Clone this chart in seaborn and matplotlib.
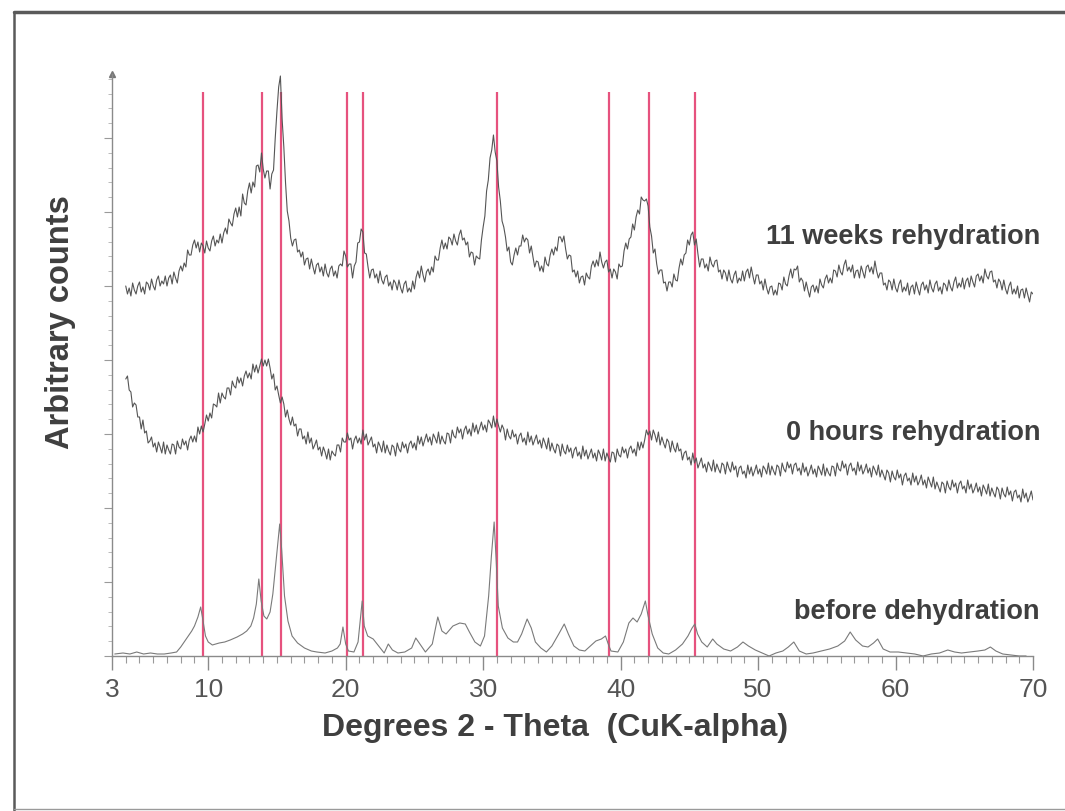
import numpy as np
import pandas as pd
import matplotlib
matplotlib.use("Agg")
import matplotlib.pyplot as plt
from matplotlib.lines import Line2D
from matplotlib.ticker import MultipleLocator
import seaborn as sns

# ---------------------------------------------------------------------------
# Powder diffraction scans (arbitrary counts, offset stacks)
# step scans: 4.0 to 70.0 degrees 2-theta in 0.125 degree steps
# ---------------------------------------------------------------------------
scan_start, scan_stop, scan_step = 4.0, 70.0, 0.125

weeks11_counts = [
    370, 362, 368, 360, 373, 366, 362, 370, 374, 364, 369, 362, 374, 372, 366, 377,
    370, 366, 376, 380, 370, 375, 372, 380, 370, 378, 381, 372, 384, 378, 373, 385,
    390, 385, 393, 389, 406, 401, 401, 411, 416, 408, 414, 404, 413, 410, 403, 415,
    408, 405, 415, 420, 410, 416, 413, 422, 413, 423, 428, 422, 437, 433, 430, 442,
    448, 439, 449, 440, 462, 453, 451, 465, 473, 463, 474, 469, 490, 491, 484, 503,
    487, 478, 485, 485, 467, 482, 486, 518, 545, 569, 580, 537, 509, 473, 445, 435,
    418, 410, 416, 417, 404, 406, 399, 404, 391, 397, 398, 387, 397, 389, 382, 391,
    393, 384, 389, 380, 392, 383, 379, 387, 390, 380, 385, 378, 390, 392, 390, 405,
    400, 389, 392, 392, 378, 390, 394, 413, 414, 427, 424, 403, 402, 389, 378, 386,
    387, 378, 382, 373, 385, 376, 372, 379, 381, 370, 374, 366, 376, 373, 366, 376,
    368, 363, 372, 375, 364, 368, 364, 375, 367, 379, 385, 378, 390, 381, 374, 384,
    387, 381, 389, 384, 400, 396, 396, 408, 416, 407, 413, 407, 419, 417, 411, 422,
    415, 411, 421, 426, 416, 418, 411, 414, 399, 404, 403, 391, 400, 398, 397, 416,
    429, 440, 465, 476, 498, 506, 521, 504, 495, 469, 455, 435, 429, 419, 405, 409,
    394, 391, 401, 408, 401, 410, 410, 421, 414, 418, 416, 403, 410, 399, 389, 395,
    394, 385, 390, 384, 399, 392, 390, 401, 407, 401, 409, 405, 419, 419, 414, 420,
    407, 397, 401, 400, 384, 386, 379, 385, 373, 379, 380, 371, 383, 379, 377, 390,
    395, 389, 396, 390, 404, 394, 388, 394, 396, 384, 387, 378, 387, 384, 377, 392,
    389, 390, 405, 413, 407, 417, 419, 432, 426, 439, 446, 442, 459, 456, 455, 457,
    450, 429, 420, 403, 407, 392, 382, 386, 386, 373, 374, 365, 374, 374, 369, 382,
    376, 375, 388, 397, 391, 401, 403, 416, 411, 421, 424, 411, 417, 402, 389, 397,
    397, 388, 392, 385, 399, 392, 389, 395, 396, 384, 386, 377, 386, 383, 375, 386,
    377, 373, 381, 385, 373, 378, 375, 385, 375, 384, 387, 378, 389, 380, 372, 381,
    381, 372, 375, 366, 377, 368, 362, 369, 370, 361, 366, 361, 373, 372, 366, 379,
    372, 370, 380, 387, 378, 387, 386, 390, 374, 378, 375, 365, 374, 366, 359, 369,
    371, 364, 370, 363, 377, 371, 368, 377, 381, 373, 378, 373, 386, 385, 379, 391,
    384, 381, 391, 396, 385, 389, 384, 391, 378, 385, 386, 378, 390, 384, 378, 389,
    391, 384, 389, 382, 395, 385, 378, 383, 383, 371, 373, 366, 376, 374, 366, 377,
    368, 364, 372, 376, 364, 369, 365, 373, 361, 369, 371, 362, 374, 367, 361, 371,
    374, 366, 371, 363, 376, 368, 364, 372, 375, 365, 369, 362, 373, 371, 365, 376,
    369, 365, 374, 379, 368, 373, 369, 378, 367, 375, 378, 369, 380, 374, 369, 380,
    382, 375, 380, 373, 387, 380, 377, 384, 385, 374, 376, 368, 377, 374, 366, 376,
    367, 362, 370, 374, 362, 367, 362, 370, 358, 366, 367, 358, 368, 361, 354, 364,
    362,
]

hours0_counts = [
    277, 280, 266, 264, 249, 253, 251, 239, 239, 227, 236, 223, 225, 213, 215, 219,
    209, 213, 204, 214, 209, 203, 214, 202, 211, 206, 202, 212, 211, 202, 215, 209,
    207, 217, 211, 215, 206, 216, 220, 214, 220, 214, 229, 222, 230, 224, 232, 241,
    235, 243, 238, 252, 251, 249, 263, 253, 263, 259, 257, 268, 268, 261, 275, 270,
    268, 279, 273, 278, 270, 280, 285, 278, 283, 277, 292, 284, 291, 283, 290, 297,
    290, 296, 290, 297, 288, 277, 282, 266, 270, 261, 253, 259, 252, 239, 246, 237,
    231, 239, 230, 232, 220, 227, 227, 217, 220, 212, 224, 213, 218, 207, 211, 216,
    206, 209, 200, 209, 204, 197, 207, 196, 205, 202, 200, 211, 211, 204, 218, 214,
    214, 223, 216, 218, 207, 216, 220, 213, 218, 212, 226, 216, 222, 211, 215, 219,
    209, 212, 203, 214, 210, 204, 215, 203, 211, 205, 201, 211, 209, 200, 213, 207,
    204, 214, 208, 212, 203, 212, 215, 208, 213, 206, 220, 212, 219, 210, 216, 222,
    214, 219, 211, 222, 218, 213, 224, 212, 220, 215, 212, 223, 222, 213, 226, 220,
    218, 229, 223, 227, 217, 226, 230, 222, 227, 220, 233, 224, 231, 222, 228, 234,
    226, 231, 224, 236, 233, 228, 240, 229, 237, 230, 224, 231, 227, 216, 227, 220,
    217, 226, 219, 222, 212, 220, 223, 214, 218, 211, 224, 214, 220, 211, 216, 221,
    212, 216, 208, 218, 213, 207, 218, 205, 213, 207, 203, 212, 210, 200, 212, 205,
    202, 211, 204, 208, 198, 206, 209, 200, 204, 197, 210, 200, 206, 197, 202, 207,
    198, 203, 195, 206, 202, 196, 207, 195, 203, 198, 194, 204, 203, 194, 207, 201,
    199, 209, 203, 207, 198, 207, 210, 203, 207, 200, 214, 206, 214, 208, 216, 226,
    221, 225, 216, 226, 221, 214, 224, 211, 219, 213, 208, 217, 214, 204, 215, 208,
    204, 213, 205, 207, 196, 203, 205, 196, 199, 191, 203, 193, 198, 188, 193, 198,
    188, 192, 184, 194, 190, 185, 196, 184, 192, 187, 183, 193, 191, 182, 194, 188,
    184, 194, 186, 190, 179, 188, 190, 182, 185, 178, 191, 182, 189, 180, 185, 191,
    182, 187, 179, 190, 187, 182, 193, 181, 190, 185, 181, 191, 189, 180, 193, 187,
    184, 194, 188, 192, 182, 191, 193, 185, 188, 181, 193, 184, 189, 180, 185, 191,
    182, 187, 179, 190, 186, 181, 192, 180, 188, 183, 180, 190, 189, 180, 193, 187,
    185, 195, 188, 192, 181, 190, 193, 185, 188, 181, 194, 185, 191, 182, 186, 192,
    183, 188, 179, 190, 186, 181, 191, 179, 186, 181, 176, 186, 183, 174, 185, 179,
    176, 186, 178, 182, 171, 180, 183, 175, 178, 171, 183, 174, 180, 171, 175, 181,
    171, 176, 168, 179, 174, 169, 179, 167, 174, 169, 164, 174, 172, 163, 175, 169,
    166, 176, 169, 173, 163, 172, 175, 167, 170, 163, 176, 167, 172, 163, 167, 173,
    164, 169, 160, 171, 167, 162, 172, 160, 168, 163, 159, 169, 166, 157, 168, 162,
    159, 169, 161, 165, 155, 164, 166, 158, 161, 154, 167, 158, 163, 154, 159, 165,
    156,
]

before_theta = [
    3.2, 3.8, 4.3, 4.8, 5.3, 5.8, 6.3, 6.8, 7.3, 7.7, 8.0, 8.4, 8.8, 9.0, 9.25,
    9.45, 9.6, 9.8, 10.0, 10.3, 10.8, 11.2, 11.6, 12.1, 12.5, 12.8, 13.1, 13.3,
    13.5, 13.68, 13.85, 14.05, 14.26, 14.5, 14.7, 14.9, 15.05, 15.2, 15.35, 15.55,
    15.8, 16.1, 16.5, 17.0, 17.5, 17.9, 18.5, 19.0, 19.4, 19.6, 19.8, 20.0, 20.2,
    20.6, 20.9, 21.05, 21.2, 21.35, 21.6, 22.0, 22.4, 22.8, 23.1, 23.4, 23.8, 24.3,
    24.8, 25.1, 25.4, 25.8, 26.3, 26.7, 27.0, 27.3, 27.8, 28.3, 28.7, 29.0, 29.4,
    29.8, 30.1, 30.4, 30.6, 30.8, 30.95, 31.1, 31.4, 31.8, 32.2, 32.5, 32.8, 33.2,
    33.5, 33.8, 34.2, 34.6, 35.0, 35.5, 35.9, 36.2, 36.6, 37.0, 37.4, 37.8, 38.2,
    38.6, 38.9, 39.1, 39.3, 39.8, 40.2, 40.6, 40.9, 41.2, 41.5, 41.8, 42.0, 42.3,
    42.7, 43.1, 43.5, 44.0, 44.5, 44.9, 45.2, 45.4, 45.6, 45.9, 46.3, 46.7, 47.0,
    47.5, 48.0, 48.5, 48.9, 49.3, 49.8, 50.3, 50.8, 51.3, 51.8, 52.2, 52.6, 53.0,
    53.5, 54.0, 54.6, 55.2, 55.8, 56.3, 56.7, 57.1, 57.6, 58.0, 58.4, 58.7, 59.1,
    59.6, 60.2, 60.8, 61.4, 62.0, 62.6, 63.2, 63.8, 64.3, 64.8, 65.4, 66.0, 66.5,
    66.9, 67.3, 67.8, 68.4, 69.0, 69.5,
]
before_counts = [
    2, 3, 2, 4, 2, 3, 2, 2, 3, 4, 9, 17, 25, 30, 39,
    49, 37, 20, 14, 11, 13, 14, 16, 19, 22, 25, 30, 38,
    52, 77, 55, 40, 37, 44, 62, 90, 112, 132, 105, 60,
    35, 20, 13, 8, 5, 4, 3, 5, 8, 12, 29, 12, 5,
    4, 14, 35, 55, 30, 20, 17, 10, 3, 12, 6, 3, 4,
    8, 18, 12, 4, 12, 39, 25, 22, 30, 33, 32, 24, 14,
    10, 20, 60, 100, 134, 95, 50, 28, 18, 14, 14, 22, 37,
    28, 14, 8, 4, 10, 22, 32, 22, 10, 6, 5, 10, 15,
    17, 20, 12, 5, 4, 14, 33, 38, 34, 42, 55, 40, 22,
    8, 3, 2, 6, 12, 20, 28, 32, 22, 14, 9, 17, 12,
    7, 5, 9, 14, 10, 6, 3, 0, 3, 5, 9, 14, 5,
    2, 3, 5, 7, 10, 15, 24, 16, 10, 9, 13, 17, 7,
    4, 4, 3, 2, 0, 2, 3, 6, 4, 3, 4, 5, 6,
    9, 5, 2, 1, 0, 0,
]

# reflection positions marked with vertical lines
reference_peaks = [9.6, 13.9, 15.28, 20.08, 21.24, 30.98, 39.19, 42.03, 45.44]
marker_top = 564

x_ticks = [3, 10, 20, 30, 40, 50, 60, 70]
x_tick_labels = ["3", "10", "20", "30", "40", "50", "60", "70"]

series_labels = ["11 weeks rehydration", "0 hours rehydration", "before dehydration"]

# ---------------------------------------------------------------------------
sns.set_theme(style="white")
plt.rcParams["font.family"] = ["Liberation Sans", "DejaVu Sans"]

W, H = 1065, 812
fig = plt.figure(figsize=(W / 100, H / 100), dpi=100)
fig.patch.set_facecolor("white")
ax = fig.add_axes([112 / W, (H - 657) / H, (1033 - 112) / W, (657 - 75) / H])
ax.set_facecolor("none")

grid = np.linspace(scan_start, scan_stop, len(weeks11_counts))
df_top = pd.DataFrame({"theta": grid, "counts": weeks11_counts})
df_mid = pd.DataFrame({"theta": grid, "counts": hours0_counts})
df_bot = pd.DataFrame({"theta": before_theta, "counts": before_counts})

ax.vlines(reference_peaks, 0, marker_top, colors="#e6527e", linewidth=1.6, zorder=1)

sns.lineplot(data=df_top, x="theta", y="counts", ax=ax, color="#555555",
             linewidth=0.8, estimator=None, sort=False, zorder=3)
sns.lineplot(data=df_mid, x="theta", y="counts", ax=ax, color="#555555",
             linewidth=0.8, estimator=None, sort=False, zorder=3)
sns.lineplot(data=df_bot, x="theta", y="counts", ax=ax, color="#7a7a7a",
             linewidth=0.8, estimator=None, sort=False, zorder=3)

ax.set_xlim(3, 70)
ax.set_ylim(0, 582)
ax.set_xlabel("")
ax.set_ylabel("")

for side in ("top", "right"):
    ax.spines[side].set_visible(False)
for side in ("left", "bottom"):
    ax.spines[side].set_color("#8a8a8a")
    ax.spines[side].set_linewidth(1.0)

ax.set_xticks(x_ticks)
ax.set_xticklabels(x_tick_labels)
ax.xaxis.set_minor_locator(MultipleLocator(1))
ax.set_yticks(np.arange(0, 582, 74))
ax.set_yticklabels([])
ax.yaxis.set_minor_locator(MultipleLocator(14.8))
ax.tick_params(axis="x", which="major", direction="out", length=10, width=1,
               color="#8a8a8a", labelsize=19, labelcolor="#555555", pad=5, bottom=True)
ax.tick_params(axis="x", which="minor", direction="out", length=5, width=0.8,
               color="#9a9a9a", bottom=True)
ax.tick_params(axis="y", which="major", direction="out", length=6, width=0.8,
               color="#9a9a9a", left=True)
ax.tick_params(axis="y", which="minor", direction="out", length=3, width=0.6,
               color="#b0b0b0", left=True)

# small arrow head at the end of the intensity axis
ax.plot([0], [1], marker="^", markersize=4, color="#777777",
        transform=ax.transAxes, clip_on=False)

text_color = "#3f3f3f"
label_rows = [237, 433, 612]
for lab, row in zip(series_labels, label_rows):
    fig.text(1040 / W, 1 - row / H, lab, ha="right", va="center",
             fontsize=19.5, fontweight="bold", color=text_color)

fig.text(61 / W, 1 - 322 / H, "Arbitrary counts", rotation=90, ha="center",
         va="center", fontsize=23.5, fontweight="bold", color=text_color)
fig.text(555 / W, 1 - 728 / H, "Degrees 2 - Theta  (CuK-alpha)", ha="center",
         va="center", fontsize=23, fontweight="bold", color=text_color)

# outer frame
fig.add_artist(Line2D([14 / W, 1], [1 - 13 / H, 1 - 13 / H], color="#5a5a5a",
                      linewidth=2.5, transform=fig.transFigure))
fig.add_artist(Line2D([14 / W, 14 / W], [0, 1 - 13 / H], color="#5a5a5a",
                      linewidth=1.8, transform=fig.transFigure))
fig.add_artist(Line2D([14 / W, 1], [2 / H, 2 / H], color="#9a9a9a",
                      linewidth=1.0, transform=fig.transFigure))

fig.savefig("out.png", dpi=100, facecolor="white")
